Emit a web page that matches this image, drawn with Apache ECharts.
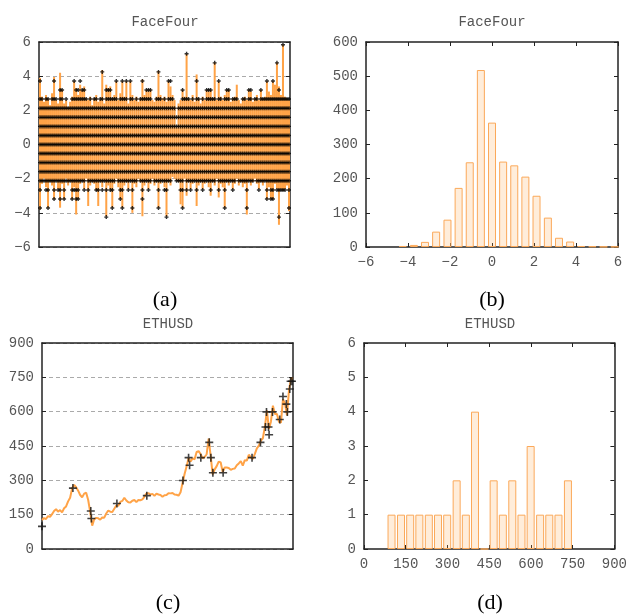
<!DOCTYPE html>
<html>
<head>
<meta charset="utf-8">
<title>FaceFour / ETHUSD</title>
<script src="https://cdn.jsdelivr.net/npm/echarts/dist/echarts.min.js"></script>
<style>
  html, body { margin: 0; padding: 0; background: #fff; }
  #chart { width: 630px; height: 615px; }
</style>
</head>
<body>
<div id="chart"></div>
<script>
// (a) FaceFour: upper / lower reach of the impulses per column, marker level span per column
const faceTop = [
  3.9, 2.8, 2.5, 2.9, 2.7, 2.3, 3.0, 3.95, 2.6, 2.4,
  4.2, 3.2, 2.4, 2.6, 2.2, 2.5, 2.8, 3.7, 3.3, 2.9,
  3.5, 3.2, 3.4, 2.7, 2.6, 2.8, 2.3, 2.7, 2.9, 2.5,
  2.6, 4.35, 2.4, 3.5, 3.3, 3.4, 2.7, 2.9, 3.7, 2.6,
  3.0, 3.7, 2.8, 3.7, 2.4, 3.7, 2.9, 2.6, 2.8, 2.5,
  2.7, 3.8, 2.9, 3.2, 3.1, 3.2, 2.6, 2.5, 2.8, 4.3,
  2.9, 2.7, 2.8, 2.5, 3.7, 3.4, 2.9, 2.6, 1.0, 2.4,
  2.6, 3.2, 2.8, 5.3, 2.7, 2.6, 2.9, 2.5, 4.1, 2.7,
  2.4, 2.8, 2.6, 3.2, 3.1, 3.2, 2.7, 4.8, 2.6, 3.7,
  2.8, 2.6, 2.9, 3.2, 3.2, 2.5, 2.7, 2.8, 3.5, 2.6,
  2.4, 2.7, 2.8, 2.6, 3.2, 3.1, 2.5, 2.7, 2.9, 2.6,
  3.2, 2.7, 2.8, 3.7, 3.1, 2.9, 3.7, 3.5, 4.8, 3.4,
  2.9, 5.85, 2.8, 2.7, 2.6
];
const faceBottom = [
  -3.8, -2.3, -2.0, -2.5, -3.7, -2.2, -2.4, -3.2, -2.1, -2.6,
  -3.7, -2.3, -3.2, -2.0, -2.4, -2.2, -3.2, -2.5, -4.1, -3.2,
  -2.3, -2.1, -2.6, -2.0, -3.6, -2.4, -2.2, -2.3, -2.7, -3.6,
  -2.2, -2.5, -2.1, -4.2, -2.4, -2.6, -3.7, -2.3, -2.0, -2.5,
  -3.2, -3.7, -2.4, -2.2, -2.6, -2.1, -4.0, -2.3, -2.5, -2.0,
  -2.2, -4.2, -2.4, -2.1, -2.6, -2.3, -2.0, -2.4, -2.2, -3.7,
  -2.3, -2.1, -2.5, -4.2, -2.2, -2.4, -1.9, -2.0, -2.1, -2.2,
  -3.5, -3.7, -2.0, -3.0, -2.2, -2.6, -2.3, -2.1, -3.6, -2.4,
  -2.2, -2.6, -2.3, -2.1, -2.5, -3.0, -2.2, -2.4, -2.0, -3.1,
  -2.3, -2.5, -3.7, -2.2, -2.4, -2.1, -2.6, -2.3, -2.0, -2.4,
  -2.2, -2.5, -2.3, -4.1, -2.1, -2.4, -2.2, -2.0, -2.3, -2.6,
  -2.2, -2.4, -2.1, -3.2, -2.5, -3.2, -3.2, -2.3, -2.6, -4.7,
  -2.6, -2.7, -2.6, -2.4, -3.9
];
// level indices (0 = level 0) of the highest / lowest marker in each column
const faceMarkTop = [
  7, 5, 4, 5, 5, 4, 5, 7, 5, 4,
  6, 6, 4, 5, 4, 4, 5, 7, 6, 6,
  7, 6, 6, 5, 4, 5, 4, 5, 5, 4,
  5, 8, 4, 6, 6, 6, 5, 5, 7, 4,
  5, 7, 5, 7, 4, 7, 5, 4, 5, 4,
  5, 7, 5, 6, 6, 6, 4, 4, 5, 8,
  5, 4, 5, 4, 7, 7, 5, 4, 3, 4,
  4, 6, 5, 10, 5, 4, 5, 4, 7, 5,
  4, 5, 4, 6, 6, 6, 5, 9, 4, 7,
  5, 4, 5, 6, 6, 4, 5, 5, 5, 4,
  4, 5, 5, 4, 6, 6, 4, 5, 5, 4,
  6, 5, 5, 7, 5, 5, 7, 5, 9, 6,
  5, 11, 5, 5, 5
];
const faceMarkBottom = [
  -7, -4, -4, -5, -7, -4, -4, -6, -4, -5,
  -6, -4, -6, -4, -4, -4, -6, -5, -6, -6,
  -4, -4, -5, -3, -5, -4, -4, -4, -5, -5,
  -4, -5, -4, -8, -4, -5, -7, -4, -3, -4,
  -6, -7, -4, -4, -5, -4, -7, -4, -4, -3,
  -4, -6, -4, -4, -5, -4, -3, -4, -4, -7,
  -4, -4, -5, -8, -4, -4, -3, -3, -4, -4,
  -5, -7, -3, -5, -4, -5, -4, -4, -5, -4,
  -4, -5, -4, -4, -4, -5, -4, -4, -3, -5,
  -4, -4, -7, -4, -4, -4, -5, -4, -3, -4,
  -4, -4, -4, -7, -4, -4, -4, -3, -4, -5,
  -4, -4, -4, -6, -4, -6, -6, -4, -5, -8,
  -5, -5, -5, -4, -7
];

// (b) FaceFour histogram, bins are the marker levels
const faceBins = [-4.25, -3.72, -3.19, -2.66, -2.12, -1.59, -1.06, -0.53, 0, 0.53,
  1.06, 1.59, 2.12, 2.66, 3.19, 3.72, 4.25, 4.78, 5.31, 5.84];
const faceCounts = [3, 6, 15, 45, 80, 173, 248, 518, 364, 250,
  239, 206, 150, 86, 27, 16, 3, 2, 1, 1];

// (c) ETHUSD price
const ethPrice = [
  127, 135, 131, 144, 140, 152, 166, 174, 163, 170,
  160, 178, 186, 208, 224, 265, 280, 270, 255, 236,
  226, 242, 246, 214, 162, 102, 130, 136, 134, 128,
  138, 137, 155, 168, 163, 162, 176, 190, 189, 206,
  210, 224, 212, 204, 203, 211, 214, 205, 214, 213,
  217, 228, 243, 244, 238, 241, 232, 242, 238, 236,
  228, 235, 236, 244, 243, 245, 238, 237, 233, 248,
  288, 328, 360, 398, 382, 396, 392, 424, 428, 414,
  396, 402, 414, 482, 406, 326, 348, 362, 382, 378,
  336, 356, 356, 354, 346, 350, 352, 366, 374, 384,
  364, 388, 386, 412, 400, 394, 416, 440, 452, 474,
  484, 534, 606, 524, 556, 626, 590, 590, 556, 552,
  654, 636, 584, 694, 744, 746
];
const ethMarkX = [0, 15.4, 24.3, 24.6, 37.3, 52.2, 70.2, 73.0, 73.5, 79.1,
  83.3, 84.1, 85.1, 90.2, 104.6, 108.8, 111.3, 111.8, 112.8, 113.1,
  114.8, 118.4, 120.0, 121.7, 122.2, 123.4, 123.8, 124.5];
const ethMarkY = [99, 266, 166, 133, 199, 233, 299, 399, 366, 399,
  466, 399, 333, 333, 399, 466, 533, 599, 533, 499,
  599, 566, 666, 633, 599, 699, 733, 733];

// (d) ETHUSD histogram of the marker levels
const ethBins = [99, 133, 166, 199, 233, 266, 299, 333, 366, 399,
  433, 466, 499, 533, 566, 599, 633, 666, 699, 733];
const ethCounts = [1, 1, 1, 1, 1, 1, 1, 2, 1, 4,
  0, 2, 1, 2, 1, 3, 1, 1, 1, 2];

const orange = "#ffa347";
const monoFont = "Liberation Mono";

// markers: the extremes of each column, and every level in between inside the busy band
let faceMarks = [];
faceTop.forEach((v, c) => {
  let bot = faceMarkBottom[c], top = faceMarkTop[c];
  for (let k = bot; k <= top; k++) {
    if (k === bot || k === top || (k >= -5 && k <= 5)) {
      faceMarks.push([c, faceBins[k + 8]]);
    }
  }
});

const frame = { show: true, onZero: false, lineStyle: { color: "#222", width: 1.5 } };
const tickIn = { show: true, inside: true, length: 4, lineStyle: { color: "#222", width: 1 } };
const label = {
  color: "#555",
  fontFamily: monoFont,
  fontSize: 14,
  margin: 8,
  formatter: v => String(v).replace("-", "\u2212")
};
const dashed = { show: true, lineStyle: { color: "#aaa", width: 1, type: [4, 3] } };

function valueAxis(grid, pos, min, max, interval, opts) {
  return Object.assign({
    type: "value", gridIndex: grid, position: pos, min: min, max: max, interval: interval,
    axisLine: frame, axisTick: tickIn, axisLabel: { show: false }, splitLine: { show: false }
  }, opts || {});
}

const cols = faceTop.map((v, i) => i);

let myChart = echarts.init(document.getElementById("chart"));
let option = {
  animation: false,
  grid: [
    { left: 39, top: 42, width: 251, height: 205 },
    { left: 366, top: 42, width: 252, height: 205 },
    { left: 42, top: 343, width: 251, height: 206 },
    { left: 364, top: 343, width: 251, height: 206 }
  ],
  xAxis: [
    { type: "category", gridIndex: 0, position: "bottom", data: cols, axisLine: frame,
      axisTick: { show: false }, axisLabel: { show: false } },
    { type: "category", gridIndex: 0, position: "top", data: cols, axisLine: frame,
      axisTick: { show: false }, axisLabel: { show: false } },
    valueAxis(1, "bottom", -6, 6, 2, { axisLabel: label }),
    valueAxis(1, "top", -6, 6, 2),
    valueAxis(2, "bottom", 0, faceTop.length, 10, { axisTick: { show: false } }),
    valueAxis(2, "top", 0, faceTop.length, 10, { axisTick: { show: false } }),
    valueAxis(3, "bottom", 0, 900, 150, { axisLabel: label }),
    valueAxis(3, "top", 0, 900, 150)
  ],
  yAxis: [
    valueAxis(0, "left", -6, 6, 2, { axisLabel: label, splitLine: dashed }),
    valueAxis(0, "right", -6, 6, 2),
    valueAxis(1, "left", 0, 600, 100, { axisLabel: label }),
    valueAxis(1, "right", 0, 600, 100),
    valueAxis(2, "left", 0, 900, 150, { axisLabel: label, splitLine: dashed }),
    valueAxis(2, "right", 0, 900, 150),
    valueAxis(3, "left", 0, 6, 1, { axisLabel: label }),
    valueAxis(3, "right", 0, 6, 1)
  ],
  graphic: [
    ["FaceFour", 165, 22], ["FaceFour", 492, 22], ["ETHUSD", 168, 324], ["ETHUSD", 490, 324]
  ].map(t => ({
    type: "text", x: t[1], y: t[2],
    style: { text: t[0], fill: "#555", font: "14px '" + monoFont + "'",
      align: "center", verticalAlign: "middle", textAlign: "center", textVerticalAlign: "middle" }
  })).concat([
    ["(a)", 165, 300], ["(b)", 492, 300], ["(c)", 168, 603], ["(d)", 490, 603]
  ].map(t => ({
    type: "text", x: t[1], y: t[2],
    style: { text: t[0], fill: "#000", font: "22px 'Liberation Serif'",
      align: "center", verticalAlign: "middle", textAlign: "center", textVerticalAlign: "middle" }
  }))),
  series: [
    { type: "bar", xAxisIndex: 0, yAxisIndex: 0, data: faceTop, barWidth: "100%", barGap: "-100%",
      barCategoryGap: "0%", itemStyle: { color: orange }, z: 2 },
    { type: "bar", xAxisIndex: 0, yAxisIndex: 0, data: faceBottom, barWidth: "100%", barGap: "-100%",
      barCategoryGap: "0%", itemStyle: { color: orange }, z: 2 },
    { type: "scatter", xAxisIndex: 0, yAxisIndex: 0, data: faceMarks,
      symbol: "path://M1.3,0H2.7V1.3H4V2.7H2.7V4H1.3V2.7H0V1.3H1.3Z", symbolSize: 4,
      itemStyle: { color: "#000" }, z: 3 },
    { type: "bar", xAxisIndex: 2, yAxisIndex: 2, barWidth: 8,
      data: faceBins.map((b, i) => [b, faceCounts[i]]),
      itemStyle: { color: "rgba(255,163,71,0.2)", borderColor: "#fba95a", borderWidth: 1 } },
    { type: "line", xAxisIndex: 4, yAxisIndex: 4, showSymbol: false,
      data: ethPrice.map((v, i) => [i, v]), lineStyle: { color: orange, width: 2 }, z: 2 },
    { type: "scatter", xAxisIndex: 4, yAxisIndex: 4,
      data: ethMarkX.map((x, i) => [x, ethMarkY[i]]),
      symbol: "path://M3.2,0H4.8V3.2H8V4.8H4.8V8H3.2V4.8H0V3.2H3.2Z", symbolSize: 8,
      itemStyle: { color: "#111" }, z: 3 },
    { type: "bar", xAxisIndex: 6, yAxisIndex: 6, barWidth: 8,
      data: ethBins.map((b, i) => [b, ethCounts[i]]),
      itemStyle: { color: "rgba(255,163,71,0.2)", borderColor: "#fba95a", borderWidth: 1 } }
  ]
};
myChart.setOption(option);
window.addEventListener("resize", function() {
  myChart.resize();
});
</script>
</body>
</html>
